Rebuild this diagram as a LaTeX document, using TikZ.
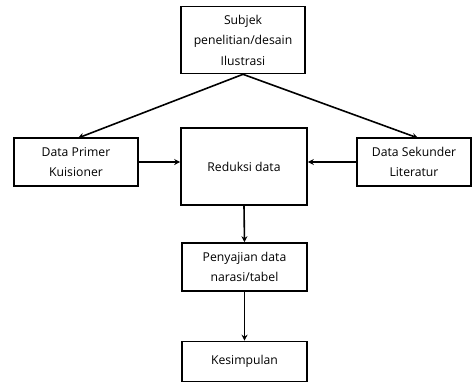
\documentclass[tikz,border=0pt]{standalone}
\usepackage{fontspec}
\setmainfont{Open Sans}
\usetikzlibrary{arrows.meta}
\begin{document}
\begin{tikzpicture}[x=1pt,y=-1pt,
  box/.style={draw,line width=1.6pt,align=center,inner sep=0pt,font=\fontsize{12.2}{20.5}\selectfont},
  arr/.style={line width=1.6pt,-{Stealth[length=6pt,width=6pt]}}]
\useasboundingbox (0,0) rectangle (473,383);
\node[box,minimum width=124pt,minimum height=67pt] (top) at (243,40) {Subjek\\penelitian/desain\\Ilustrasi};
\node[box,minimum width=124pt,minimum height=48pt] (left) at (76,162) {Data Primer\\Kuisioner};
\node[box,minimum width=126pt,minimum height=77pt] (mid) at (244,166.5) {Reduksi data};
\node[box,minimum width=114pt,minimum height=48pt] (right) at (414,162) {Data Sekunder\\Literatur};
\node[box,minimum width=125pt,minimum height=48pt] (pen) at (244.5,267) {Penyajian data\\narasi/tabel};
\node[box,minimum width=125pt,minimum height=40pt] (kes) at (244.5,361.5) {Kesimpulan};
\coordinate (lt) at (78,138);
\coordinate (rt) at (418,138);
\draw[arr] (top.south) -- (lt);
\draw[arr] (top.south) -- (rt);
\draw[arr] (left.east) -- (left.east -| mid.west);
\draw[arr] (right.west) -- (right.west -| mid.east);
\draw[arr] (mid.south) -- (pen.north);
\draw[arr] (pen.south) -- (kes.north);
\end{tikzpicture}
\end{document}
